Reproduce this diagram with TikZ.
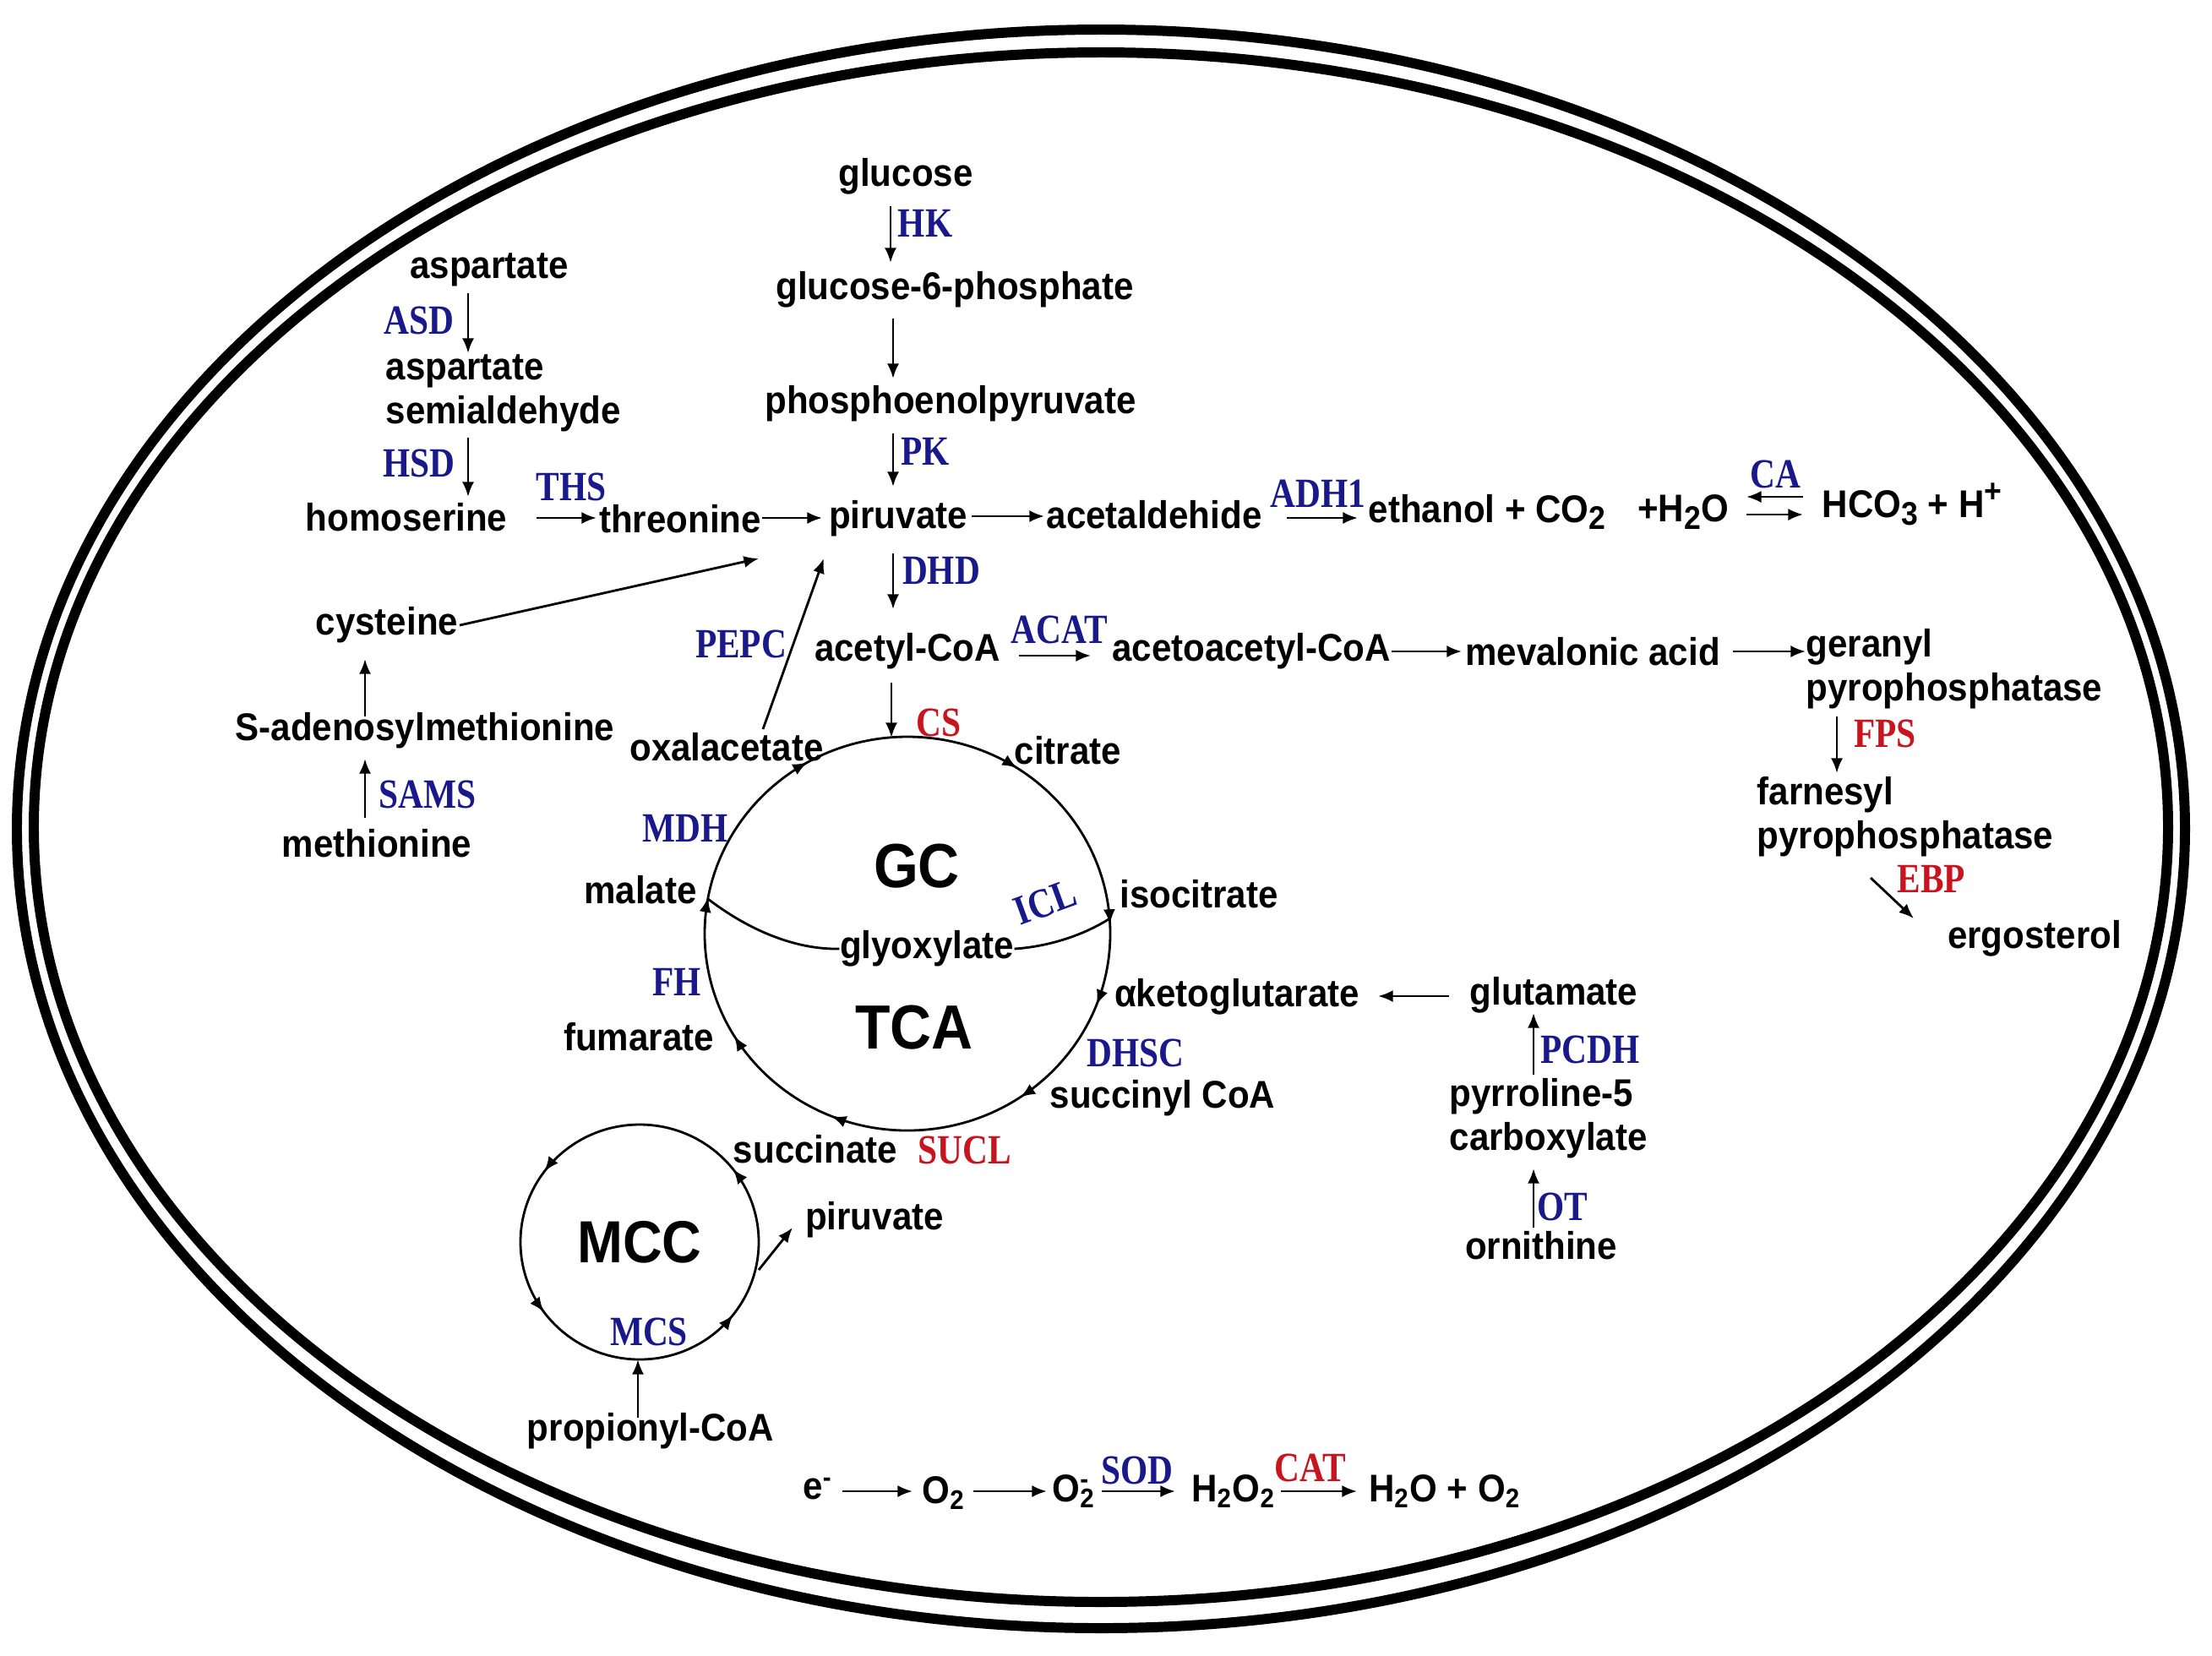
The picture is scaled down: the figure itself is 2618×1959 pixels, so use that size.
\documentclass[tikz,border=0pt]{standalone}
\usepackage{fontspec}
\setmainfont{Liberation Sans}[FakeStretch=0.92]
\newfontfamily\enzfont{Liberation Serif}[FakeStretch=0.84]
\usetikzlibrary{arrows.meta,decorations.markings}
\definecolor{enzblue}{RGB}{25,25,140}
\definecolor{enzred}{RGB}{200,20,30}
\newcommand\subb[1]{\raisebox{-0.35ex}{\fontsize{11}{12}\selectfont #1}}
\newcommand\supp[1]{\raisebox{0.75ex}{\fontsize{11}{12}\selectfont #1}}
\tikzset{
 met/.style={inner sep=0pt, font=\fontsize{13}{14.8}\selectfont\bfseries},
 enz/.style={inner sep=0pt, text=enzblue, font=\enzfont\fontsize{14}{16}\selectfont\bfseries},
 enzr/.style={enz, text=enzred},
 big/.style={inner sep=0pt, font=\fontsize{21}{24}\selectfont\bfseries},
 arr/.style={line width=0.8pt, -{Latex[length=5pt,width=4pt]}},
 cyctip/.tip={Latex[length=5pt,width=4pt]},
 cyc/.style={line width=0.8pt},
 wall/.style={line width=3.4pt}
}
\begin{document}
\begin{tikzpicture}[x=0.01cm,y=-0.01cm]
\useasboundingbox (0,0) rectangle (2618,1959);
% cell wall
\draw[wall] (1303,981) ellipse [x radius=1283, y radius=946];
\draw[wall] (1303,979) ellipse [x radius=1263, y radius=917];

% glycolysis
\node[met] (glucose) at (1072,209) {glucose};
\node[enz] (HK) at (1095,264) {HK};
\node[met] (g6p) at (1130,343) {glucose-6-phosphate};
\node[met] (pep) at (1125,478) {phosphoenolpyruvate};
\node[enz] (PK) at (1095,534) {PK};
\node[met] (piruvate) at (1063,614) {piruvate};
\node[enz] (DHD) at (1114,675) {DHD};
\node[met] (acetylcoa) at (1074,771) {acetyl-CoA};
\node[enzr] (CS) at (1111,855) {CS};
\draw[arr] (1054,244) -- (1054,311);
\draw[arr] (1057,377) -- (1057,448);
\draw[arr] (1057,513) -- (1057,576);
\draw[arr] (1057,655) -- (1057,721);
\draw[arr] (1055,808) -- (1055,873);

% aspartate branch
\node[met] (aspartate) at (579,319) {aspartate};
\node[enz] (ASD) at (496,379) {ASD};
\node[met, anchor=west, align=left] (asa) at (456,465) {aspartate\\semialdehyde};
\node[enz] (HSD) at (496,548) {HSD};
\node[met] (homoserine) at (481,612) {homoserine};
\node[enz] (THS) at (676,576) {THS};
\node[met] (threonine) at (805,614) {threonine};
\draw[arr] (554,347) -- (554,418);
\draw[arr] (554,518) -- (554,588);
\draw[arr] (635,613) -- (706,613);
\draw[arr] (902,613) -- (973,613);

% ethanol branch
\node[met] (acetaldehide) at (1366,609) {acetaldehide};
\node[enz] (ADH1) at (1560,584) {ADH1};
\node[met] (ethanol) at (1760,606) {ethanol + CO\subb{2}};
\node[met] (h2o) at (1992,606) {+H\subb{2}O};
\node[enz] (CA) at (2101,561) {CA};
\node[met] (hco3) at (2263,597) {HCO\subb{3} + H\supp{+}};
\draw[arr] (1150,611) -- (1236,611);
\draw[arr] (1523,613) -- (1607,613);
\draw[arr] (2134,588) -- (2067,588);
\draw[arr] (2067,609) -- (2134,609);

% cysteine / methionine
\node[met] (cysteine) at (458,740) {cysteine};
\node[enz] (PEPC) at (877,762) {PEPC};
\node[met] (sam) at (503,865) {S-adenosylmethionine};
\node[enz] (SAMS) at (506,940) {SAMS};
\node[met] (methionine) at (446,998) {methionine};
\draw[arr] (544,740) -- (898,661);
\draw[arr] (903,863) -- (975,661);
\draw[arr] (432,848) -- (432,780);
\draw[arr] (432,968) -- (432,898);

% ergosterol branch
\node[enz] (ACAT) at (1254,745) {ACAT};
\node[met] (acetoacetyl) at (1481,771) {acetoacetyl-CoA};
\node[met] (mevalonic) at (1885,771) {mevalonic acid};
\node[met, anchor=west, align=left] (geranyl) at (2137,792) {geranyl\\pyrophosphatase};
\node[enzr] (FPS) at (2231,868) {FPS};
\node[met, anchor=west, align=left] (farnesyl) at (2079,967) {farnesyl\\pyrophosphatase};
\node[enzr] (EBP) at (2286,1040) {EBP};
\node[met] (ergosterol) at (2408,1111) {ergosterol};
\draw[arr] (1206,776) -- (1291,776);
\draw[arr] (1647,771) -- (1730,771);
\draw[arr] (2051,771) -- (2137,771);
\draw[arr] (2174,848) -- (2174,915);
\draw[arr] (2214,1039) -- (2265,1087);

% TCA / glyoxylate cycle
\draw[cyc, postaction={decorate}, decoration={markings,
  mark=at position 0.058 with {\arrow{cyctip}},
  mark=at position 0.155 with {\arrow{cyctip}},
  mark=at position 0.312 with {\arrow{cyctip}},
  mark=at position 0.414 with {\arrow{cyctip}},
  mark=at position 0.529 with {\arrow{cyctip}},
  mark=at position 0.667 with {\arrow{cyctip}},
  mark=at position 0.842 with {\arrow{cyctip}},
  mark=at position 0.9925 with {\arrow{cyctip}}}]
  (1074,1105) ellipse [x radius=240, y radius=233];
\node[big] (GC) at (1085,1025) {GC};
\node[big] (TCA) at (1082,1216) {TCA};
\node[met] (oxalacetate) at (860,884) {oxalacetate};
\node[met] (citrate) at (1264,888) {citrate};
\node[enz] (MDH) at (811,980) {MDH};
\node[met] (malate) at (758,1053) {malate};
\node[met] (isocitrate) at (1419,1058) {isocitrate};
\node[enz, rotate=20] (ICL) at (1237,1068) {ICL};
\node[met] (glyoxylate) at (1097,1123) {glyoxylate};
\node[enz] (FH) at (801,1162) {FH};
\node[met] (fumarate) at (756,1227) {fumarate};
\node[met] (aketo) at (1464,1180) {αketoglutarate};
\node[enz] (DHSC) at (1344,1246) {DHSC};
\node[met] (succinylcoa) at (1376,1300) {succinyl CoA};
\node[met] (succinate) at (965,1360) {succinate};
\node[enzr] (SUCL) at (1142,1361) {SUCL};
\draw[cyc] (838,1064) .. controls (885,1100) and (940,1124) .. (glyoxylate.west);
\draw[cyc] (glyoxylate.east) .. controls (1245,1120) and (1285,1105) .. (1312,1088);

% glutamate branch
\node[met] (glutamate) at (1839,1178) {glutamate};
\node[enz] (PCDH) at (1882,1242) {PCDH};
\node[met, anchor=west, align=left] (p5c) at (1715,1324) {pyrroline-5\\carboxylate};
\node[enz] (OT) at (1849,1428) {OT};
\node[met] (ornithine) at (1824,1474) {ornithine};
\draw[arr] (1715,1179) -- (1631,1179);
\draw[arr] (1815,1272) -- (1815,1199);
\draw[arr] (1815,1453) -- (1815,1383);

% methylcitrate cycle
\draw[cyc, postaction={decorate}, decoration={markings,
  mark=at position 0.106 with {\arrowreversed{cyctip}},
  mark=at position 0.399 with {\arrowreversed{cyctip}},
  mark=at position 0.602 with {\arrowreversed{cyctip}},
  mark=at position 0.894 with {\arrowreversed{cyctip}}}]
  (757,1470) ellipse [x radius=141, y radius=139];
\node[big, font=\fontsize{20}{24}\selectfont\bfseries] (MCC) at (757,1470) {MCC};
\node[met] (piruvate2) at (1035,1444) {piruvate};
\node[enz] (MCS) at (768,1576) {MCS};
\node[met] (propionyl) at (770,1694) {propionyl-CoA};
\draw[arr] (898,1503) -- (938,1453);
\draw[arr] (755,1678) -- (755,1609);

% ROS
\node[met] (e) at (968,1762) {e\textsuperscript{-}};
\node[met] (o2) at (1117,1767) {O\textsubscript{2}};
\node[met] (o2m) at (1271,1765) {O\rlap{\textsuperscript{-}}\textsubscript{2}};
\node[enz] (SOD) at (1346,1740) {SOD};
\node[met] (h2o2) at (1460,1765) {H\textsubscript{2}O\textsubscript{2}};
\node[enzr] (CAT) at (1551,1737) {CAT};
\node[met] (h2oo2) at (1710,1765) {H\textsubscript{2}O + O\textsubscript{2}};
\draw[arr] (997,1765) -- (1080,1765);
\draw[arr] (1152,1765) -- (1239,1765);
\draw[arr] (1304,1765) -- (1391,1765);
\draw[arr] (1516,1765) -- (1606,1765);
\end{tikzpicture}
\end{document}
